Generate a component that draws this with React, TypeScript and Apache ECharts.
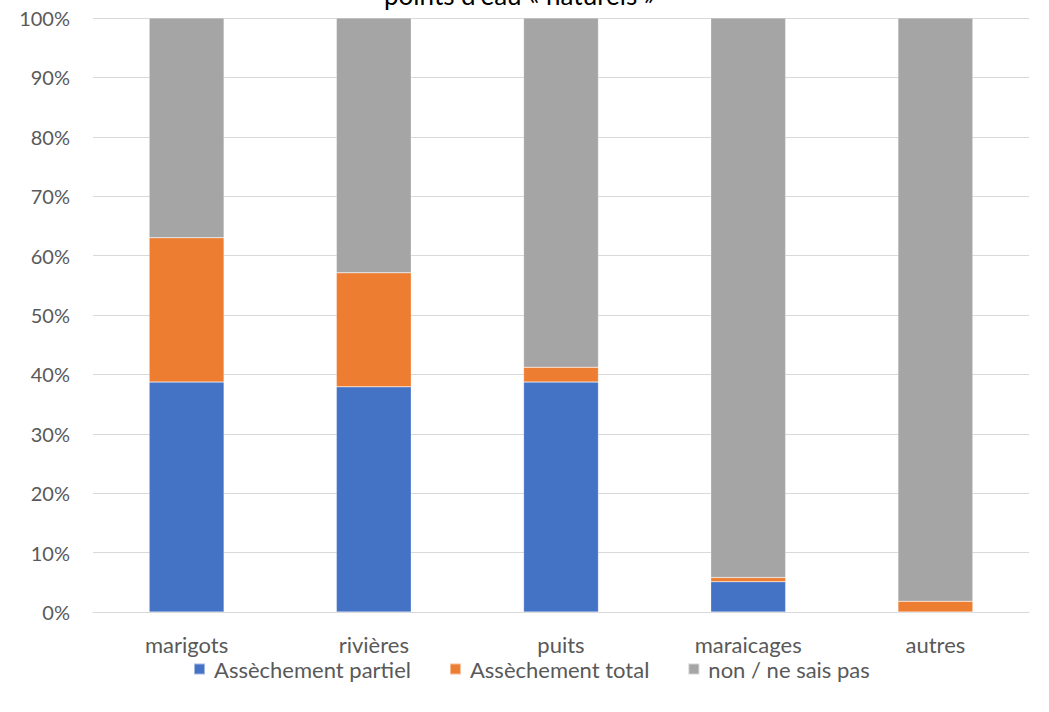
import React, { useEffect, useRef } from "react";
import * as echarts from "echarts";

const categories = ["marigots", "rivières", "puits", "maraicages", "autres"];
const partiel = [38.7, 37.9, 38.7, 5.1, 0];
const total = [24.3, 19.2, 2.5, 0.7, 1.8];
const nonSais = [37.0, 42.9, 58.8, 94.2, 98.2];
const yTicks = [0, 10, 20, 30, 40, 50, 60, 70, 80, 90, 100];
const seriesNames = ["Assèchement partiel", "Assèchement total", "non / ne sais pas"];
const colors = ["#4472C4", "#ED7D31", "#A5A5A5"];
const titleText = "points d'eau « naturels »";

const FONT = "Lato, 'Liberation Sans', sans-serif";

export default function App() {
  const ref = useRef<HTMLDivElement>(null);
  useEffect(() => {
    document.body.style.margin = "0";
    const chart = echarts.init(ref.current!, null, { renderer: "svg" });
    const data = [partiel, total, nonSais];
    chart.setOption({
      animation: false,
      textStyle: { fontFamily: FONT },
      title: {
        text: titleText,
        left: 384,
        top: -18,
        padding: 0,
        textStyle: { fontFamily: FONT, fontSize: 26, fontWeight: "normal", color: "#000" },
      },
      legend: {
        top: 657,
        left: 193,
        padding: 0,
        itemWidth: 11,
        itemHeight: 11,
        itemGap: 38,
        icon: "rect",
        textStyle: { fontFamily: FONT, fontSize: 22, color: "#595959", padding: [0, 0, 0, 4], lineHeight: 24 },
        data: seriesNames,
      },
      grid: { left: 93, right: 20, top: 18, bottom: 100, containLabel: false },
      xAxis: {
        type: "category",
        data: categories,
        axisLine: { lineStyle: { color: "#D9D9D9", width: 1 } },
        axisTick: { show: false },
        axisLabel: { fontFamily: FONT, fontSize: 22, color: "#595959", margin: 21, lineHeight: 22 },
      },
      yAxis: {
        type: "value",
        min: 0,
        max: 100,
        interval: 10,
        axisLine: { show: false },
        axisTick: { show: false },
        splitLine: { lineStyle: { color: "#D9D9D9", width: 1 } },
        axisLabel: {
          fontFamily: FONT,
          fontSize: 20,
          color: "#595959",
          margin: 23,
          formatter: (v: number) => (yTicks.includes(v) ? `${v}%` : ""),
        },
      },
      series: data.map((d, i) => ({
        name: seriesNames[i],
        type: "bar",
        stack: "s",
        barWidth: "40%",
        data: d,
        itemStyle: { color: colors[i], borderColor: "rgba(255,255,255,0.5)", borderWidth: 0.5 },
      })),
    });
    return () => chart.dispose();
  }, []);
  return <div ref={ref} style={{ width: 1049, height: 712 }} />;
}
